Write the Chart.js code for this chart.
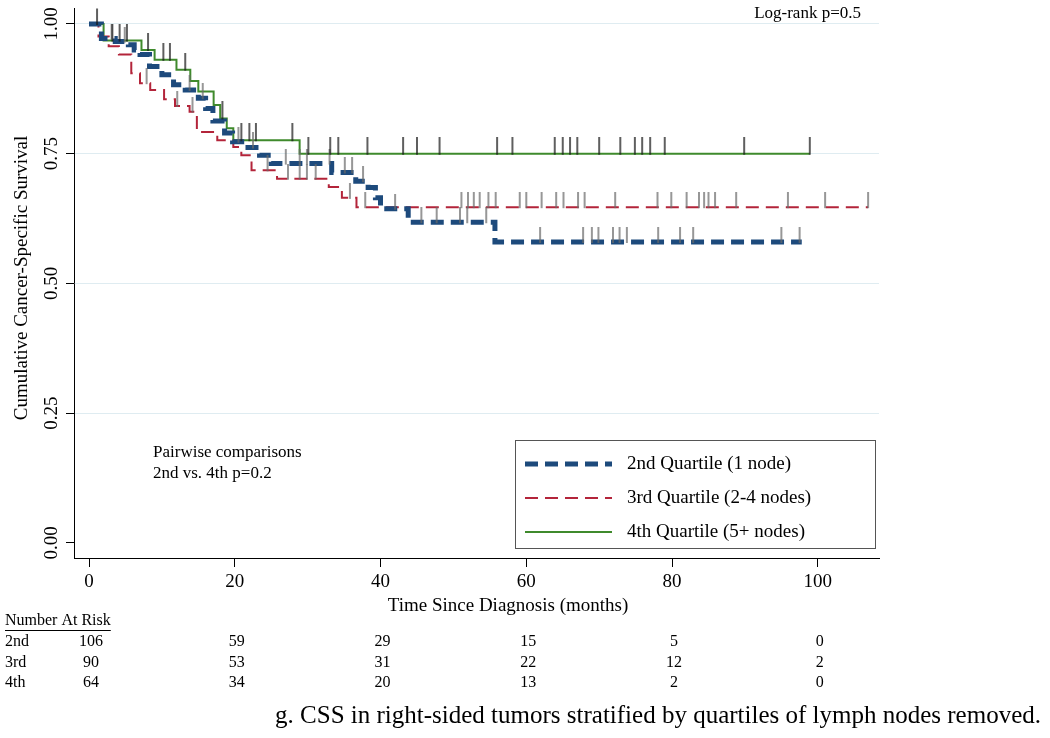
<!doctype html>
<html lang="en">
<head>
  <meta charset="utf-8">
  <title>CSS by lymph node quartile</title>
  <script src="https://cdn.jsdelivr.net/npm/chart.js"></script>
  <style>
    body { margin: 0; background: #fff; }
    #kmChart { display: block; }
  </style>
</head>
<body>
  <canvas id="kmChart" width="1050" height="738"></canvas>
  <script>
    // x axis ticks / at-risk columns
    var months = [0, 20, 40, 60, 80, 100];
    var yTicks = [0, 0.25, 0.5, 0.75, 1];

    // number at risk table
    var riskRows = ['2nd', '3rd', '4th'];
    var atRisk2nd = [106, 59, 29, 15, 5, 0];
    var atRisk3rd = [90, 53, 31, 22, 12, 2];
    var atRisk4th = [64, 34, 20, 13, 2, 0];

    var seriesLabels = ['2nd Quartile (1 node)', '3rd Quartile (2-4 nodes)', '4th Quartile (5+ nodes)'];

    // Kaplan-Meier steps: time of drop (months) and survival after it
    var time2nd = [0, 1.7, 3.6, 5.4, 6.2, 7.0, 8.3, 10.0, 11.6, 13.2, 15.0, 16.0, 17.0, 18.6, 19.7, 21.4, 23.4, 25.0, 33.3, 36.6, 38.3, 39.3, 40.0, 43.8, 55.7, 97.8];
    var surv2nd = [1, 0.972, 0.966, 0.960, 0.950, 0.941, 0.918, 0.902, 0.883, 0.873, 0.857, 0.837, 0.813, 0.790, 0.773, 0.762, 0.747, 0.731, 0.714, 0.697, 0.685, 0.665, 0.644, 0.618, 0.580, 0.580];

    var time3rd = [0, 1.3, 2.7, 4.1, 5.8, 7.0, 8.4, 10.3, 11.8, 13.8, 14.8, 17.6, 19.8, 20.9, 22.3, 25.8, 32.9, 34.7, 36.7, 106.9];
    var surv3rd = [1, 0.976, 0.957, 0.941, 0.905, 0.886, 0.873, 0.855, 0.842, 0.831, 0.792, 0.776, 0.763, 0.747, 0.718, 0.702, 0.686, 0.665, 0.647, 0.647];

    var time4th = [0, 2.0, 7.2, 9.0, 12.0, 13.9, 15.0, 17.1, 18.0, 18.9, 19.8, 28.9, 98.9];
    var surv4th = [1, 0.968, 0.950, 0.931, 0.912, 0.890, 0.870, 0.844, 0.818, 0.799, 0.776, 0.750, 0.750];

    // censoring times
    var cens2nd = [3.1, 4.9, 13.8, 15.6, 20.5, 22.5, 27.0, 28.9, 29.9, 33.0, 35.1, 36.1, 37.6, 42.0, 45.6, 47.7, 50.9, 51.9, 54.5, 61.9, 67.8, 69.0, 69.9, 71.9, 72.8, 73.8, 78.1, 81.1, 82.9, 95.0, 97.5];
    var cens3rd = [7.9, 12.1, 14.2, 24.5, 27.3, 28.9, 29.9, 31.1, 35.8, 37.9, 51.1, 52.0, 52.8, 53.6, 54.8, 55.8, 59.1, 60.0, 62.1, 64.1, 65.1, 67.1, 68.0, 72.2, 78.0, 79.9, 82.0, 83.7, 84.4, 85.0, 85.9, 88.8, 95.9, 101.0, 106.9];
    var cens4th = [1.1, 3.2, 4.2, 5.2, 8.1, 10.2, 11.1, 13.2, 18.3, 20.9, 22.0, 22.9, 27.9, 30.1, 33.1, 34.2, 38.2, 43.1, 45.0, 48.1, 56.0, 58.1, 63.9, 65.0, 66.0, 67.0, 70.0, 72.9, 74.9, 75.9, 77.0, 79.0, 89.9, 98.9];

    var SERIF = "'Liberation Serif', 'Times New Roman', serif";
    var BLUE = '#1d4a7c', RED = '#b3243a', GREEN = '#3f8a2c';

    function toPoints(ts, ss) {
      return ts.map(function (t, i) { return {x: t, y: ss[i]}; });
    }
    // survival level of a step curve at time t
    function levelAt(ts, ss, t) {
      var v = ss[0];
      for (var i = 0; i < ts.length; i++) { if (ts[i] <= t) v = ss[i]; }
      return v;
    }
    function censPoints(cs, ts, ss) {
      return cs.map(function (t) { return {x: t, y: levelAt(ts, ss, t)}; });
    }
    // vertical tick above the point
    function tickMark(color, len) {
      var c = document.createElement('canvas');
      c.width = 4; c.height = len * 2;
      var g = c.getContext('2d');
      g.strokeStyle = color; g.lineWidth = 1.4;
      g.beginPath(); g.moveTo(2, 0); g.lineTo(2, len + 1); g.stroke();
      return c;
    }

    var extras = {
      id: 'extras',
      afterDraw: function (chart) {
        var ctx = chart.ctx, a = chart.chartArea, xs = chart.scales.x;
        ctx.save();
        ctx.fillStyle = '#000';
        ctx.textBaseline = 'middle';

        // axis titles
        ctx.font = '19px ' + SERIF;
        ctx.textAlign = 'center';
        ctx.fillText('Time Since Diagnosis (months)', 508, 606);
        ctx.save();
        ctx.translate(22, 278);
        ctx.rotate(-Math.PI / 2);
        ctx.fillText('Cumulative Cancer-Specific Survival', 0, 0);
        ctx.restore();

        // notes
        ctx.font = '17px ' + SERIF;
        ctx.textAlign = 'right';
        ctx.fillText('Log-rank p=0.5', a.right - 18, 14);
        ctx.textAlign = 'left';
        ctx.fillText('Pairwise comparisons', 153, 453);
        ctx.fillText('2nd vs. 4th p=0.2', 153, 474);

        // legend box
        var bx = a.right - 364, by = a.bottom - 118, bw = 360, bh = 108;
        ctx.fillStyle = '#fff';
        ctx.fillRect(bx, by, bw, bh);
        ctx.strokeStyle = '#555';
        ctx.lineWidth = 1;
        ctx.strokeRect(bx + 0.5, by + 0.5, bw, bh);
        ctx.font = '19px ' + SERIF;
        ctx.fillStyle = '#000';
        chart.data.datasets.forEach(function (ds, i) {
          if (!ds.kmCurve) return;
          var k = ds.kmCurve - 1;
          var ly = by + 24 + k * 34;
          ctx.save();
          ctx.strokeStyle = ds.borderColor;
          ctx.lineWidth = ds.borderWidth;
          ctx.setLineDash(ds.borderDash || []);
          ctx.beginPath();
          ctx.moveTo(bx + 10, ly);
          ctx.lineTo(bx + 97, ly);
          ctx.stroke();
          ctx.restore();
          ctx.textAlign = 'left';
          ctx.fillText(ds.label, bx + 112, ly);
        });

        // number at risk
        ctx.font = '16px ' + SERIF;
        ctx.textAlign = 'left';
        ctx.fillText('Number At Risk', 5, 621);
        var uw = ctx.measureText('Number At Risk').width;
        ctx.fillRect(5, 630, uw, 1);
        var rows = [atRisk2nd, atRisk3rd, atRisk4th];
        rows.forEach(function (vals, r) {
          var ry = 642 + r * 20.5;
          ctx.textAlign = 'left';
          ctx.fillText(riskRows[r], 5, ry);
          ctx.textAlign = 'center';
          vals.forEach(function (v, j) {
            ctx.fillText(String(v), xs.getPixelForValue(months[j]) + 2, ry);
          });
        });

        // caption
        ctx.font = '25px ' + SERIF;
        ctx.textAlign = 'right';
        ctx.fillText('g. CSS in right-sided tumors stratified by quartiles of lymph nodes removed.', 1041, 716);
        ctx.restore();
      }
    };

    var tickFont = {family: SERIF, size: 19};

    var chart = new Chart(document.getElementById('kmChart'), {
      type: 'scatter',
      data: {
        datasets: [
          {data: censPoints(cens4th, time4th, surv4th), pointStyle: tickMark('#1a1a1a', 17), pointRadius: 8, showLine: false},
          {data: censPoints(cens3rd, time3rd, surv3rd), pointStyle: tickMark('#6a6a6a', 15), pointRadius: 8, showLine: false},
          {data: censPoints(cens2nd, time2nd, surv2nd), pointStyle: tickMark('#6a6a6a', 15), pointRadius: 8, showLine: false},
          {label: seriesLabels[0], kmCurve: 1, data: toPoints(time2nd, surv2nd), showLine: true, stepped: true,
           borderColor: BLUE, borderWidth: 5, borderDash: [13, 7], pointRadius: 0, borderCapStyle: 'butt'},
          {label: seriesLabels[1], kmCurve: 2, data: toPoints(time3rd, surv3rd), showLine: true, stepped: true,
           borderColor: RED, borderWidth: 2, borderDash: [13, 7], pointRadius: 0},
          {label: seriesLabels[2], kmCurve: 3, data: toPoints(time4th, surv4th), showLine: true, stepped: true,
           borderColor: GREEN, borderWidth: 2, pointRadius: 0}
        ]
      },
      options: {
        responsive: false,
        animation: false,
        events: [],
        layout: {autoPadding: false, padding: {left: 0, top: 2, right: 171, bottom: 0}},
        plugins: {legend: {display: false}, tooltip: {enabled: false}},
        scales: {
          x: {
            type: 'linear', min: -2.06, max: 108.4,
            afterBuildTicks: function (s) { s.ticks = months.map(function (v) { return {value: v}; }); },
            afterFit: function (s) { s.height = 180; },
            border: {color: '#000', width: 1},
            grid: {drawOnChartArea: false, tickColor: '#000', tickLength: 9},
            ticks: {font: tickFont, color: '#000', padding: 4, maxRotation: 0, autoSkip: false}
          },
          y: {
            type: 'linear', min: -0.029, max: 1.03,
            afterBuildTicks: function (s) { s.ticks = yTicks.map(function (v) { return {value: v}; }); },
            afterFit: function (s) { s.width = 74; },
            border: {color: '#000', width: 1},
            grid: {
              color: function (c) { return c.tick && c.tick.value > 0 ? '#dfecf1' : 'rgba(0,0,0,0)'; },
              tickColor: '#000', tickLength: 8
            },
            ticks: {
              font: tickFont, color: '#000', autoSkip: false,
              minRotation: 90, maxRotation: 90, crossAlign: 'center', padding: -3,
              callback: function (v) { return v.toFixed(2); }
            }
          }
        }
      },
      plugins: [extras]
    });
  </script>
</body>
</html>
